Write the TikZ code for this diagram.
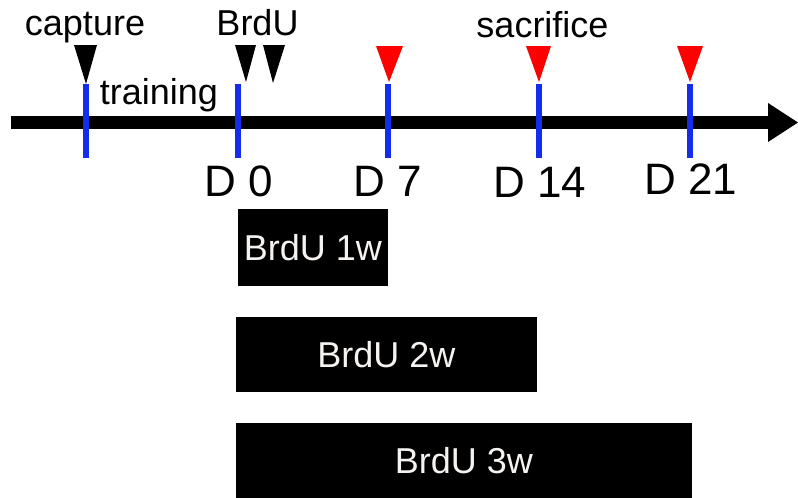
\documentclass[tikz,border=0pt]{standalone}
\usepackage{fontspec}
\setmainfont{Liberation Sans}
\definecolor{tickblue}{RGB}{20,45,235}
\definecolor{markred}{RGB}{255,0,0}
\definecolor{boxtext}{RGB}{245,242,240}
\begin{document}
\begin{tikzpicture}[x=1pt,y=-1pt,
  toplabel/.style={anchor=base,inner sep=0pt,font=\fontsize{36}{40}\selectfont},
  daylabel/.style={anchor=base,inner sep=0pt,font=\fontsize{44}{48}\selectfont},
  brdubox/.style={fill=black,draw=none,inner sep=0pt,text=boxtext,
    font=\fontsize{36}{40}\selectfont,text height=25.8pt,text depth=0pt},
  tick/.style={draw=tickblue,line width=6pt},
  axisline/.style={draw=black,line width=13pt}
]
\useasboundingbox (0,0) rectangle (798,498);
% axis
\coordinate (axstart) at (11,122.5);
\coordinate (axend) at (768,122.5);
\draw[axisline] (axstart) -- (axend);
\fill[black] (768,103) -- (798,122.5) -- (768,142) -- cycle;
% ticks
\foreach \n/\x in {cap/86,d0/238,d7/388,d14/539,d21/690}{
  \coordinate (\n top) at (\x,84);
  \coordinate (\n bot) at (\x,158);
  \draw[tick] (\n top) -- (\n bot);
}
% black triangles
\fill[black] (74,45) -- (97,45) -- (86,84) -- cycle;
\fill[black] (235,45) -- (256,45) -- (246,82) -- cycle;
\fill[black] (263,45) -- (285,45) -- (273,83) -- cycle;
% red triangles
\fill[markred] (376,46) -- (403,46) -- (389,82) -- cycle;
\fill[markred] (526,46) -- (551,46) -- (539,82) -- cycle;
\fill[markred] (677,46) -- (703,46) -- (690,82) -- cycle;
% top labels
\node[toplabel] (capture) at (85,35) {capture};
\node[toplabel] (brdu) at (257.5,35) {BrdU};
\node[toplabel] (training) at (159,104) {training};
\node[toplabel] (sacrifice) at (542.5,37) {sacrifice};
% day labels
\node[daylabel] (D0) at (239,196) {D 0};
\node[daylabel] (D7) at (388,196) {D 7};
\node[daylabel] (D14) at (540,197) {D 14};
\node[daylabel] (D21) at (691,194) {D 21};
% boxes
\node[brdubox,minimum width=150pt,minimum height=77pt] (b1) at (313,247.5) {BrdU 1w};
\node[brdubox,minimum width=301pt,minimum height=75pt] (b2) at (386.5,354.5) {BrdU 2w};
\node[brdubox,minimum width=456pt,minimum height=75pt] (b3) at (464,460.5) {BrdU 3w};
\end{tikzpicture}
\end{document}
